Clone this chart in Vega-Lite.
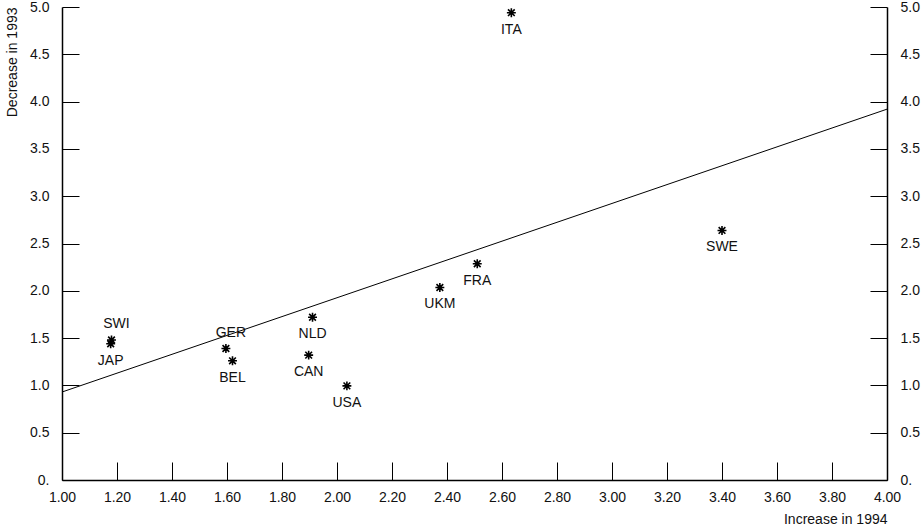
{
  "$schema": "https://vega.github.io/schema/vega-lite/v6.json",
  "width": 825,
  "height": 473,
  "autosize": "none",
  "padding": {"left": 62, "top": 7, "right": 35, "bottom": 47},
  "background": "white",
  "config": {
    "view": {"stroke": null},
    "font": "Liberation Sans",
    "axis": {
      "grid": false,
      "domainColor": "black",
      "tickColor": "black",
      "labelColor": "#111",
      "titleColor": "#111",
      "labelFont": "Liberation Sans",
      "titleFont": "Liberation Sans",
      "labelFontSize": 14,
      "titleFontSize": 14,
      "titleFontWeight": "normal"
    }
  },
  "datasets": {
    "pts": [
      {"country": "ITA", "inc1994": 2.634, "dec1993": 4.94, "side": "below"},
      {"country": "SWI", "inc1994": 1.18, "dec1993": 1.48, "side": "above"},
      {"country": "JAP", "inc1994": 1.177, "dec1993": 1.44, "side": "below"},
      {"country": "GER", "inc1994": 1.596, "dec1993": 1.39, "side": "above"},
      {"country": "BEL", "inc1994": 1.62, "dec1993": 1.26, "side": "below"},
      {"country": "NLD", "inc1994": 1.911, "dec1993": 1.72, "side": "below"},
      {"country": "CAN", "inc1994": 1.897, "dec1993": 1.32, "side": "below"},
      {"country": "USA", "inc1994": 2.036, "dec1993": 0.995, "side": "below"},
      {"country": "UKM", "inc1994": 2.374, "dec1993": 2.035, "side": "below"},
      {"country": "FRA", "inc1994": 2.51, "dec1993": 2.286, "side": "below"},
      {"country": "SWE", "inc1994": 3.40, "dec1993": 2.638, "side": "below"}
    ],
    "fit": [
      {"inc1994": 1.0, "dec1993": 0.93},
      {"inc1994": 4.0, "dec1993": 3.92}
    ]
  },
  "resolve": {"axis": {"y": "independent"}},
  "layer": [
    {
      "data": {"name": "fit"},
      "mark": {"type": "line", "color": "black", "strokeWidth": 1, "clip": true},
      "encoding": {
        "x": {
          "field": "inc1994", "type": "quantitative",
          "scale": {"domain": [1, 4], "nice": false, "zero": false},
          "axis": {
            "title": "Increase in 1994",
            "titleAnchor": "end",
            "titleAlign": "right",
            "titlePadding": 8,
            "values": [1, 1.2, 1.4, 1.6, 1.8, 2.0, 2.2, 2.4, 2.6, 2.8, 3.0, 3.2, 3.4, 3.6, 3.8, 4.0],
            "format": ".2f",
            "tickSize": -18,
            "labelPadding": 28,
            "labelFlush": false,
            "labelOverlap": false,
            "domainWidth": 1.5
          }
        },
        "y": {
          "field": "dec1993", "type": "quantitative",
          "scale": {"domain": [0, 5], "nice": false, "zero": true},
          "axis": {
            "orient": "left",
            "title": "Decrease in 1993",
            "titleAnchor": "end",
            "titlePadding": 10,
            "values": [0, 0.5, 1, 1.5, 2, 2.5, 3, 3.5, 4, 4.5, 5],
            "labelExpr": "datum.value == 0 ? '0.' : format(datum.value, '.1f')",
            "tickSize": -17,
            "labelPadding": 30,
            "labelFlush": false,
            "labelOverlap": false,
            "domainWidth": 1.5
          }
        }
      }
    },
    {
      "data": {"name": "pts"},
      "mark": {
        "type": "point",
        "shape": "M-1,0L1,0M0,-1L0,1M-0.75,-0.75L0.75,0.75M-0.75,0.75L0.75,-0.75",
        "size": 80,
        "stroke": "black",
        "strokeWidth": 1.6,
        "filled": false,
        "opacity": 1
      },
      "encoding": {
        "x": {"field": "inc1994", "type": "quantitative"},
        "y": {
          "field": "dec1993", "type": "quantitative",
          "axis": {
            "orient": "right",
            "title": null,
            "values": [0, 0.5, 1, 1.5, 2, 2.5, 3, 3.5, 4, 4.5, 5],
            "labelExpr": "datum.value == 0 ? '0.' : format(datum.value, '.1f')",
            "tickSize": -17,
            "labelPadding": 30,
            "labelFlush": false,
            "labelOverlap": false,
            "domainWidth": 1.5
          }
        }
      }
    },
    {
      "data": {"name": "pts"},
      "transform": [{"filter": "datum.side == 'below'"}],
      "mark": {"type": "text", "fontSize": 14, "font": "Liberation Sans", "color": "#111", "baseline": "middle", "dy": 17},
      "encoding": {
        "x": {"field": "inc1994", "type": "quantitative"},
        "y": {"field": "dec1993", "type": "quantitative", "axis": null},
        "text": {"field": "country"}
      }
    },
    {
      "data": {"name": "pts"},
      "transform": [{"filter": "datum.side == 'above'"}],
      "mark": {"type": "text", "fontSize": 14, "font": "Liberation Sans", "color": "#111", "baseline": "middle", "dy": -16, "dx": 5},
      "encoding": {
        "x": {"field": "inc1994", "type": "quantitative"},
        "y": {"field": "dec1993", "type": "quantitative", "axis": null},
        "text": {"field": "country"}
      }
    }
  ]
}
